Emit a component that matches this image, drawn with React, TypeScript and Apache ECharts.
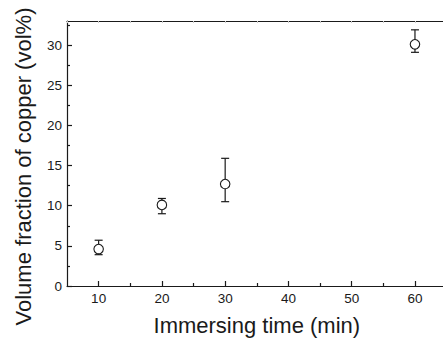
import React, { useEffect, useRef } from "react";
import * as echarts from "echarts";

const times = [10, 20, 30, 60];
const volumeFraction = [4.6, 10.1, 12.7, 30.1];
const errorUpper = [5.7, 10.9, 15.9, 31.9];
const errorLower = [3.9, 9.0, 10.5, 29.1];
const xMajorTicks = [10, 20, 30, 40, 50, 60];
const xMinorTicks = [15, 25, 35, 45, 55];
const yMajorTicks = [0, 5, 10, 15, 20, 25, 30];
const yMinorTicks = [2.5, 7.5, 12.5, 17.5, 22.5, 27.5, 32.5];

const FONT = "'Liberation Sans', Arial, Helvetica, sans-serif";
const INK = "#1a1a1a";

export default function App() {
  const ref = useRef<HTMLDivElement>(null);
  useEffect(() => {
    if (!ref.current) return;
    const chart = echarts.init(ref.current, null, { renderer: "svg" });
    const lineStyle = { color: INK, width: 1.2 };
    const option: any = {
      animation: false,
      backgroundColor: "#fff",
      grid: {
        left: 67,
        top: 21,
        bottom: 55,
        right: -3.6,
        containLabel: false,
        outerBoundsMode: "none",
      },
      xAxis: [
        {
          type: "value",
          position: "bottom",
          min: 5,
          max: 65,
          axisLine: { show: true, lineStyle },
          axisTick: { show: true, inside: true, length: 5, lineStyle, customValues: xMajorTicks },
          axisLabel: {
            show: true,
            customValues: xMajorTicks,
            margin: 5,
            color: INK,
            fontSize: 13.5,
            fontFamily: FONT,
          },
          splitLine: { show: false },
          name: "Immersing time (min)",
          nameLocation: "middle",
          nameGap: 28,
          nameTextStyle: { fontSize: 22, fontFamily: FONT, color: INK },
        },
        {
          type: "value",
          position: "bottom",
          min: 5,
          max: 65,
          axisLine: { show: false },
          axisTick: { show: true, inside: true, length: 3, lineStyle, customValues: xMinorTicks },
          axisLabel: { show: false },
          splitLine: { show: false },
        },
        {
          type: "value",
          position: "top",
          min: 5,
          max: 65,
          interval: 5,
          axisLine: { show: true, lineStyle },
          axisTick: { show: true, inside: true, length: 2, lineStyle: { color: "#c8c8c8", width: 1 } },
          axisLabel: { show: false },
          splitLine: { show: false },
        },
      ],
      yAxis: [
        {
          type: "value",
          position: "left",
          min: 0,
          max: 33,
          axisLine: { show: true, lineStyle },
          axisTick: { show: true, inside: true, length: 5, lineStyle, customValues: yMajorTicks },
          axisLabel: {
            show: true,
            customValues: yMajorTicks,
            margin: 5,
            color: INK,
            fontSize: 13.5,
            fontFamily: FONT,
          },
          splitLine: { show: false },
          name: "Volume fraction of copper (vol%)",
          nameLocation: "middle",
          nameRotate: 90,
          nameGap: 33,
          nameTextStyle: {
            fontSize: 22,
            fontFamily: FONT,
            color: INK,
            padding: [0, 26, 0, 0],
          },
        },
        {
          type: "value",
          position: "left",
          offset: 0,
          min: 0,
          max: 33,
          axisLine: { show: false },
          axisTick: { show: true, inside: true, length: 3, lineStyle, customValues: yMinorTicks },
          axisLabel: { show: false },
          splitLine: { show: false },
        },
      ],
      series: [
        {
          type: "custom",
          xAxisIndex: 0,
          yAxisIndex: 0,
          z: 2,
          data: times.map((t, i) => [t, errorLower[i], errorUpper[i]]),
          encode: { x: 0, y: [1, 2] },
          renderItem: (params: any, api: any) => {
            const x = api.value(0);
            const lo = api.coord([x, api.value(1)]);
            const hi = api.coord([x, api.value(2)]);
            const hw = 4;
            const st = { stroke: INK, lineWidth: 1.2 };
            return {
              type: "group",
              children: [
                { type: "line", shape: { x1: lo[0], y1: lo[1], x2: hi[0], y2: hi[1] }, style: st },
                { type: "line", shape: { x1: hi[0] - hw, y1: hi[1], x2: hi[0] + hw, y2: hi[1] }, style: st },
                { type: "line", shape: { x1: lo[0] - hw, y1: lo[1], x2: lo[0] + hw, y2: lo[1] }, style: st },
              ],
            };
          },
        },
        {
          type: "scatter",
          xAxisIndex: 0,
          yAxisIndex: 0,
          z: 3,
          symbol: "circle",
          symbolSize: 9.5,
          itemStyle: { color: "#fff", borderColor: INK, borderWidth: 1.1, opacity: 1 },
          data: times.map((t, i) => [t, volumeFraction[i]]),
        },
      ],
    };
    chart.setOption(option);
    return () => chart.dispose();
  }, []);
  return (
    <div
      ref={ref}
      style={{ position: "fixed", left: 0, top: 0, width: 443, height: 341, background: "#fff" }}
    />
  );
}
